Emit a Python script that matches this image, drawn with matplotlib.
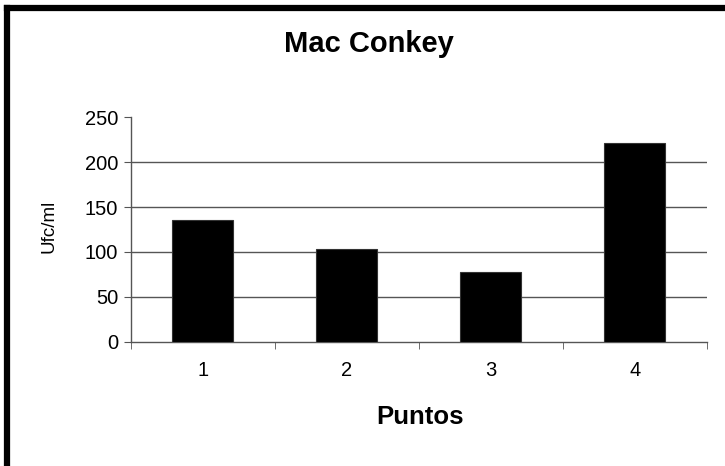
import matplotlib.pyplot as plt
from matplotlib.lines import Line2D
import numpy as np

# --- data ---
puntos = ['1', '2', '3', '4']
ufc_ml = [136, 103, 78, 221]
y_ticks = [0, 50, 100, 150, 200, 250]

plt.rcParams['font.family'] = ['Liberation Sans', 'DejaVu Sans']

W, H = 725, 466
fig = plt.figure(figsize=(W / 100, H / 100), dpi=100)
ax = fig.add_axes([0.1803, 0.2667, 0.7945, 0.4816])

x = np.arange(len(puntos))
ax.bar(x, ufc_ml, width=0.42, color='black', edgecolor='#333333', linewidth=0.8, zorder=3)

ax.set_xlim(-0.5, len(puntos) - 0.5)
ax.set_ylim(y_ticks[0], y_ticks[-1])

# horizontal gridlines, skipping the axis line and the top tick
for v in y_ticks[1:-1]:
    ax.axhline(v, color='#555555', linewidth=1.0, zorder=1)

ax.set_yticks(y_ticks)
ax.set_xticks(x)
ax.set_xticklabels(puntos)
ax.set_xticks(np.arange(len(puntos) + 1) - 0.5, minor=True)
ax.tick_params(axis='x', which='major', length=0, pad=14, labelsize=14.5)
ax.tick_params(axis='x', which='minor', length=5, color='#555555', direction='out')
ax.tick_params(axis='y', length=5, color='#555555', direction='out', pad=4, labelsize=14.5)

for side in ['top', 'right']:
    ax.spines[side].set_visible(False)
for side in ['left', 'bottom']:
    ax.spines[side].set_color('#555555')
    ax.spines[side].set_linewidth(1.0)

fig.text(49 / W, 1 - 226 / H, 'Ufc/ml', fontsize=13.5, rotation=90, ha='center', va='center')
fig.text(420 / W, 1 - 417 / H, 'Puntos', fontsize=18.5, fontweight='bold', ha='center', va='center')
fig.text(369 / W, 1 - 44 / H, 'Mac Conkey', fontsize=21, fontweight='bold', ha='center', va='center')

# thick chart-area frame along the left and top edges
fig.add_artist(Line2D([7 / W, 7 / W], [0, 1 - 8 / H], transform=fig.transFigure,
                      color='black', linewidth=4.5, solid_capstyle='projecting'))
fig.add_artist(Line2D([7 / W, 1], [1 - 8 / H, 1 - 8 / H], transform=fig.transFigure,
                      color='black', linewidth=4.5, solid_capstyle='projecting'))

fig.savefig('out.png', dpi=100)
